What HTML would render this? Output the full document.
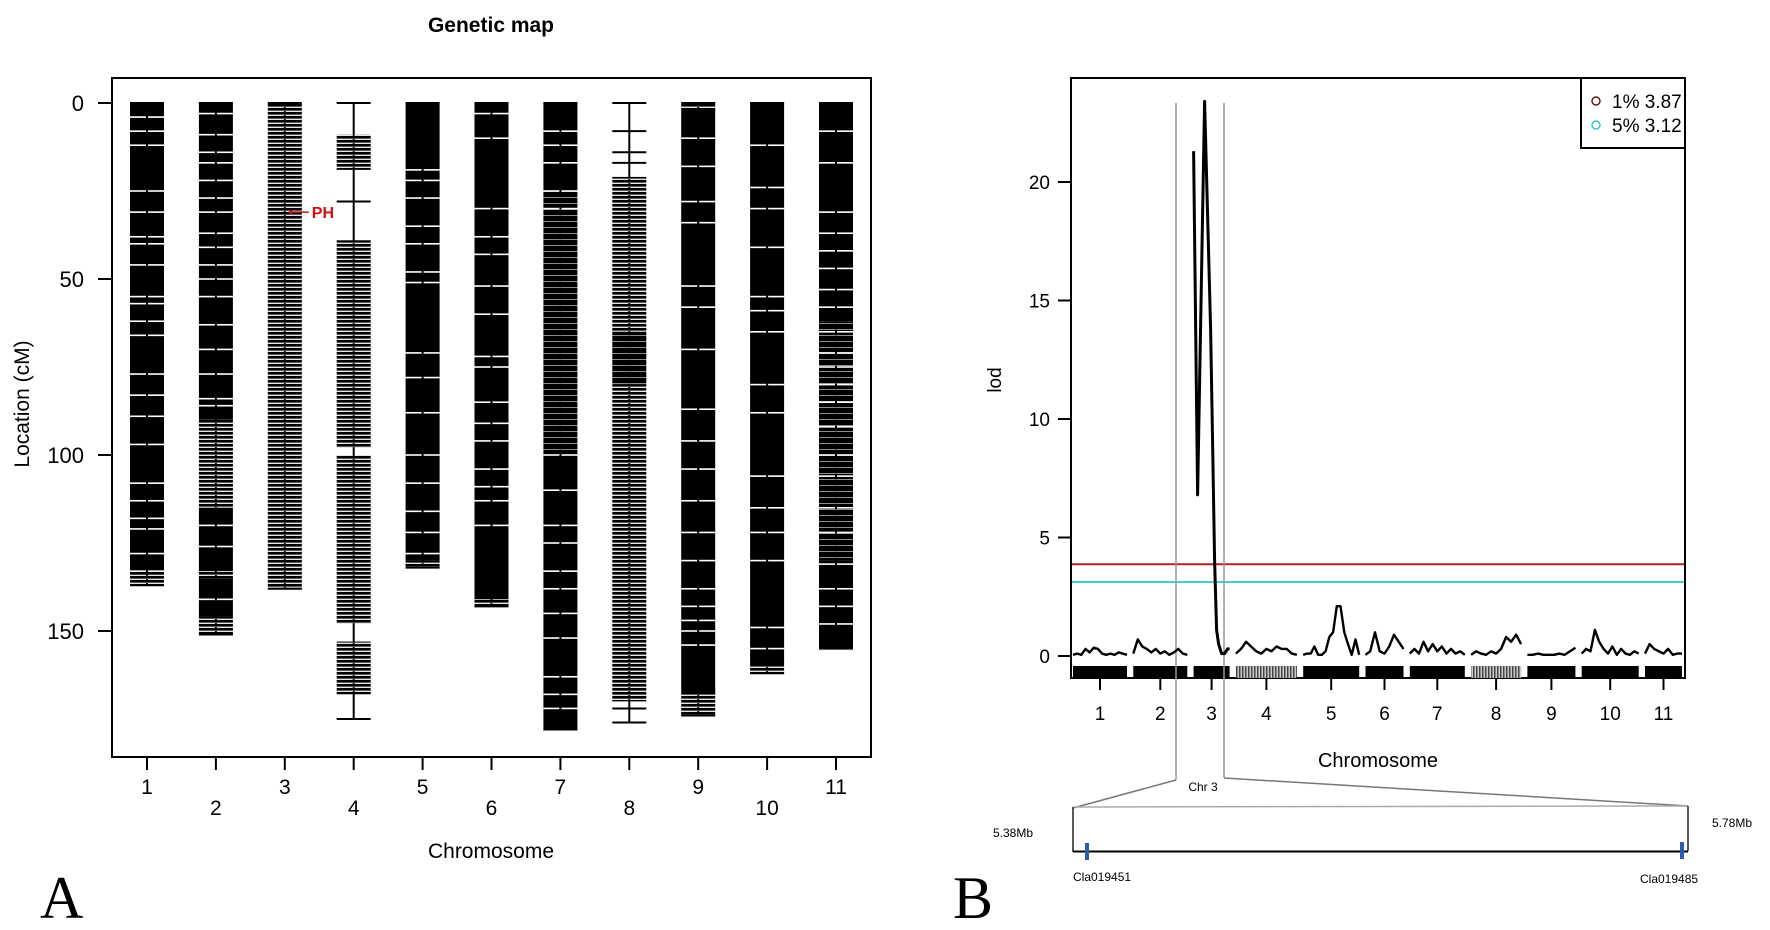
<!DOCTYPE html>
<html><head><meta charset="utf-8"><style>
html,body{margin:0;padding:0;background:#fff}
svg{display:block}
text{font-family:"Liberation Sans",sans-serif}
</style></head><body>
<svg id="fig" width="1770" height="930" viewBox="0 0 1770 930" xmlns="http://www.w3.org/2000/svg">
<defs>
<pattern id="hatch" patternUnits="userSpaceOnUse" width="10" height="4"><rect width="10" height="2.4" fill="#000"/><rect y="2.4" width="10" height="0.8" fill="#777"/></pattern>
<pattern id="dense" patternUnits="userSpaceOnUse" width="10" height="6"><rect width="10" height="5.2" fill="#000"/><rect y="5.2" width="10" height="0.8" fill="#888"/></pattern>
<pattern id="ribhatch" patternUnits="userSpaceOnUse" width="3" height="10"><rect width="1.5" height="10" fill="#444"/><rect x="1.5" width="1.5" height="10" fill="#ccc"/></pattern>
</defs>
<g id="panelA">
  <text x="491" y="32" text-anchor="middle" font-size="21" font-weight="bold">Genetic map</text>
  <rect x="112" y="78" width="759" height="679" fill="none" stroke="#000" stroke-width="2"/>
  <g id="aYAxis"></g>
  <g id="aXAxis"></g>
  <g id="aChroms"></g>
  <text transform="translate(29,404) rotate(-90)" text-anchor="middle" font-size="21">Location (cM)</text>
  <text x="491" y="858" text-anchor="middle" font-size="21">Chromosome</text>
  <text x="40" y="918" font-size="60" style="font-family:'Liberation Serif',serif">A</text>
</g>
<g id="panelB">
  <rect x="1071" y="78" width="614" height="600" fill="none" stroke="#000" stroke-width="2"/>
  <g id="bYAxis"></g>
  <g id="bXAxis"></g>
  <g id="bThresh"></g>
  <g id="bRibbon"></g>
  <g id="bZoom">
    <line x1="1176" y1="103" x2="1176" y2="780" stroke="#999" stroke-width="1.5"/>
    <line x1="1224" y1="103" x2="1224" y2="778" stroke="#999" stroke-width="1.5"/>
    <line x1="1176" y1="780" x2="1073" y2="808" stroke="#777" stroke-width="1.5"/>
    <line x1="1224" y1="778" x2="1688" y2="806" stroke="#777" stroke-width="1.5"/>
    <line x1="1073" y1="807" x2="1688" y2="806" stroke="#aaa" stroke-width="1.5"/>
    <line x1="1073" y1="807" x2="1073" y2="852" stroke="#222" stroke-width="1.5"/>
    <line x1="1688" y1="806" x2="1688" y2="851" stroke="#222" stroke-width="1.5"/>
    <line x1="1073" y1="851.5" x2="1688" y2="851.5" stroke="#000" stroke-width="2"/>
    <rect x="1085" y="843" width="4" height="17" fill="#2a5cb0"/>
    <rect x="1680" y="842" width="4" height="17" fill="#2a5cb0"/>
  </g>
  <g id="bCurve"></g>
  <g>
    <rect x="1581" y="78" width="104" height="70" fill="#fff" stroke="#000" stroke-width="2"/>
    <circle cx="1596" cy="101" r="4" fill="none" stroke="#6b1a1a" stroke-width="1.5"/>
    <text x="1612" y="108" font-size="19">1% 3.87</text>
    <circle cx="1596" cy="125" r="4" fill="none" stroke="#3cc8c0" stroke-width="1.5"/>
    <text x="1612" y="132" font-size="19">5% 3.12</text>
  </g>
  <text transform="translate(1001,380) rotate(-90)" text-anchor="middle" font-size="19">lod</text>
  <text x="1378" y="767" text-anchor="middle" font-size="20">Chromosome</text>
  <text x="1203" y="791" text-anchor="middle" font-size="12">Chr 3</text>
  <text x="993" y="837" font-size="12">5.38Mb</text>
  <text x="1712" y="827" font-size="12">5.78Mb</text>
  <text x="1073" y="881" font-size="12">Cla019451</text>
  <text x="1640" y="883" font-size="12">Cla019485</text>
  <text x="953" y="918" font-size="60" style="font-family:'Liberation Serif',serif">B</text>
</g>
</svg>
<script>
// ---------- Panel A data ----------
const aChromNames = ["1","2","3","4","5","6","7","8","9","10","11"];
const aLengths = [137,151,138,175,132,143,178,176,174,162,155];
const aBlocks = [
  [[0,134,"s"],[134,137,"h"]],
  [[0,90,"s"],[90,115,"h"],[115,133,"s"],[133,135,"h"],[135,146,"s"],[146,151,"h"]],
  [[0,138,"h"]],
  [[9,19,"h"],[39,98,"h"],[100,148,"h"],[153,168,"h"]],
  [[0,130,"s"],[130,132,"h"]],
  [[0,141,"s"],[141,143,"h"]],
  [[0,25,"s"],[25,100,"d"],[100,178,"s"]],
  [[21,65,"h"],[65,80,"d"],[80,170,"h"]],
  [[0,2,"h"],[2,168,"s"],[168,174,"h"]],
  [[0,160,"s"],[160,162,"h"]],
  [[0,62,"s"],[62,130,"d"],[130,155,"s"]]
];
const aGaps = [
  [4,8,12,25,31,38,40,46,55,57,62,66,77,83,89,97,108,113,118,121,128,133],
  [3,9,14,17,22,27,31,37,41,46,50,55,63,70,77,84,86,120,126,141],
  [],
  [28],
  [19,22,27,35,40,48,51,71,78,88,100,108,116,122,128],
  [3,10,30,38,43,52,60,72,75,85,91,96,104,109,113,120],
  [8,12,17,25,30,100,110,120,125,133,138,145,152,163,168,172],
  [8,14,17,172],
  [10,18,28,34,52,58,70,87,96,104,113,122,130,138,143,147,150,154],
  [12,24,30,41,55,59,65,80,88,106,115,122,130,149,155],
  [8,17,31,37,42,47,53,58,65,71,75,80,85,92,100,106,115,122,131,138,143,148]
];
const aYTicks = [0,50,100,150];
const aPH = 31;

// ---------- Panel B data ----------
const bChromNames = ["1","2","3","4","5","6","7","8","9","10","11"];
const bChromLen = [54,54,36,61,56,38,55,50,48,57,37];
const bChromHatched = [false,false,false,true,false,false,false,true,false,false,false];
const bLod = [
  [0.05,0.1,0.05,0.3,0.15,0.35,0.3,0.1,0.05,0.1,0.05,0.15,0.1,0.05],
  [0.1,0.7,0.4,0.3,0.15,0.3,0.1,0.2,0.05,0.15,0.3,0.1,0.05],
  [21.3,6.8,23.4,13.8,9,4,1.1,0.5,0.1,0.1,0.3,0.3],
  [0.1,0.3,0.6,0.4,0.2,0.1,0.3,0.2,0.4,0.3,0.3,0.1,0.05],
  [0.05,0.1,0.1,0.4,0.05,0.05,0.2,0.8,1.0,2.1,2.1,1.0,0.5,0.05,0.7,0.05],
  [0.05,0.2,1.0,0.2,0.1,0.4,0.9,0.6,0.3],
  [0.1,0.3,0.1,0.6,0.2,0.5,0.2,0.4,0.1,0.3,0.1,0.2,0.05],
  [0.05,0.2,0.1,0.05,0.2,0.1,0.3,0.8,0.6,0.9,0.5],
  [0.05,0.05,0.1,0.05,0.05,0.05,0.1,0.05,0.2,0.35],
  [0.1,0.3,0.2,1.1,0.6,0.3,0.1,0.4,0.05,0.3,0.1,0.05,0.2,0.1],
  [0.1,0.5,0.3,0.2,0.1,0.3,0.05,0.1,0.1]
];
const bChr3Pos = [0,4,11,17,19,21,23,25,28,31,34,36];
const bYTicks = [0,5,10,15,20];
const bThresholds = [3.87,3.12];
const bThreshColors = ["#b22222","#40d0d0"];

const NS = "http://www.w3.org/2000/svg";
function mk(tag, attrs, parent){const e=document.createElementNS(NS,tag);for(const k in attrs)e.setAttribute(k,attrs[k]);parent.appendChild(e);return e;}

// Panel A axes
const aY = cm => 103 + cm*3.52;
const aX = i => 147 + i*68.9;
const aBarW = 34;
const aYAxis = document.getElementById('aYAxis');
aYTicks.forEach(t=>{
  const l = mk('line',{x1:98,x2:112,y1:aY(t),y2:aY(t),stroke:'#000','stroke-width':2},aYAxis);
  
  
  const tx = mk('text',{x:84,y:aY(t)+8,'text-anchor':'end','font-size':22},aYAxis);
  tx.textContent = t;
  
  
});
const aXAxis = document.getElementById('aXAxis');
aChromNames.forEach((n,i)=>{
  const l = mk('line',{x1:aX(i),x2:aX(i),y1:757,y2:770,stroke:'#000','stroke-width':2},aXAxis);
  
  
  const tx = mk('text',{x:aX(i),y:(i%2===0?794:815),'text-anchor':'middle','font-size':21},aXAxis);
  tx.textContent = n;
  
  
});
const aChroms = document.getElementById('aChroms');
aLengths.forEach((len,i)=>{
  const g = mk('g',{},aChroms);
  
  
  const cx = aX(i), x0 = cx-aBarW/2;
  mk('line',{x1:cx,x2:cx,y1:aY(0),y2:aY(len),stroke:'#000','stroke-width':2},g);
  aBlocks[i].forEach(b=>{
    const fill = b[2]==='s'?'#000':(b[2]==='d'?'url(#dense)':'url(#hatch)');
    const r = mk('rect',{x:x0,y:aY(b[0]),width:aBarW,height:aY(b[1])-aY(b[0]),fill:fill},g);
    
    
  });
  aGaps[i].forEach(p=>{
    const inBlock = aBlocks[i].some(b=>p>=b[0]&&p<=b[1]);
    if(inBlock){ mk('rect',{x:x0,y:aY(p)-0.8,width:aBarW,height:1.6,fill:'#fff'},g); mk('line',{x1:cx,x2:cx,y1:aY(p)-1,y2:aY(p)+1,stroke:'#000','stroke-width':2},g); }
    else mk('line',{x1:x0,x2:x0+aBarW,y1:aY(p),y2:aY(p),stroke:'#000','stroke-width':2},g);
  });
  mk('line',{x1:x0,x2:x0+aBarW,y1:aY(0),y2:aY(0),stroke:'#000','stroke-width':2},g);
  mk('line',{x1:x0,x2:x0+aBarW,y1:aY(len),y2:aY(len),stroke:'#000','stroke-width':2},g);
});
{
  const g = mk('g',{},aChroms);
  
  
  mk('circle',{cx:aX(2)+6,cy:aY(aPH),r:1.8,fill:'#d01010'},g);
  mk('line',{x1:aX(2)+6,x2:aX(2)+24,y1:aY(aPH),y2:aY(aPH),stroke:'#d01010','stroke-width':1.5},g);
  const t = mk('text',{x:aX(2)+27,y:aY(aPH)+6,'font-size':16,'font-weight':'bold',fill:'#d01010'},g);
  t.textContent='PH';
}

// Panel B
const bY = v => 656 - v*23.7;
const bGap = 6.3, bStart = 1073;
const bOff = []; {let s=bStart; bChromLen.forEach(l=>{bOff.push(s); s+=l+bGap;});}
const bX = (c,p) => bOff[c]+p;
const bYAxis = document.getElementById('bYAxis');
bYTicks.forEach(t=>{
  const l = mk('line',{x1:1058,x2:1071,y1:bY(t),y2:bY(t),stroke:'#000','stroke-width':2},bYAxis);
  
  
  const tx = mk('text',{x:1050,y:bY(t)+7,'text-anchor':'end','font-size':19},bYAxis);
  tx.textContent=t;
  
  
});
const bXAxis = document.getElementById('bXAxis');
const bRib = document.getElementById('bRibbon');
bChromNames.forEach((n,i)=>{
  const c = bX(i,bChromLen[i]/2);
  const l = mk('line',{x1:c,x2:c,y1:678,y2:690,stroke:'#000','stroke-width':2},bXAxis);
  
  
  const tx = mk('text',{x:c,y:720,'text-anchor':'middle','font-size':19},bXAxis);
  tx.textContent=n;
  
  
  const r = mk('rect',{x:bX(i,0),y:666,width:bChromLen[i],height:12,fill:bChromHatched[i]?'url(#ribhatch)':'#000'},bRib);
  
  
});
const bTh = document.getElementById('bThresh');
bThresholds.forEach((t,i)=>{
  const l = mk('line',{x1:1072,x2:1684,y1:bY(t),y2:bY(t),stroke:bThreshColors[i],'stroke-width':2},bTh);
  
  
});
const bCurve = document.getElementById('bCurve');
bLod.forEach((vals,c)=>{
  const pts = vals.map((v,k)=>{
    const p = c===2 ? bChr3Pos[k] : k*bChromLen[c]/(vals.length-1);
    return bX(c,p).toFixed(1)+','+bY(v).toFixed(1);
  });
  const pl = mk('polyline',{points:pts.join(' '),fill:'none',stroke:'#000','stroke-width':c===2?3:2.4,'stroke-linejoin':'round'},bCurve);
  
  
});
</script>
</body></html>
